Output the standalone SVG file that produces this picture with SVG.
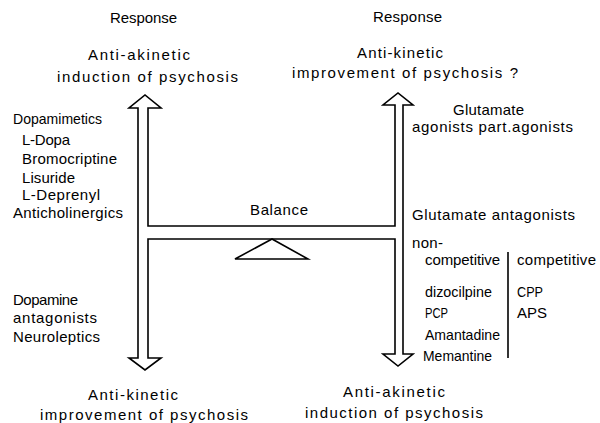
<svg xmlns="http://www.w3.org/2000/svg" width="600" height="423" viewBox="0 0 600 423">
<style>
text{font-family:"Liberation Sans","DejaVu Sans",sans-serif;font-size:15px;fill:#000;}
.ln{fill:none;stroke:#000;stroke-width:1.6;stroke-linejoin:miter;}
</style>
<rect width="600" height="423" fill="#fff"/>
<g id="connectors">
<path id="h-frame" class="ln" d="M148,108 V226 H395 V105 H383 L398,93 L413,105 H403 V354 H413 L398,366 L383,354 H395 V239 H148 V358 H161 L145,370 L129,358 H138 V108 H129 L145,95 L161,108 Z"/>
<path id="divider" class="ln" d="M508,252 V358"/>
</g>
<g id="fulcrum"><polygon class="ln" points="272,239 235,259 308,259"/></g>
<g id="top-left">
<text x="110" y="23" textLength="67" lengthAdjust="spacing">Response</text>
<text x="88" y="60" textLength="102" lengthAdjust="spacing">Anti-akinetic</text>
<text x="57" y="82" textLength="181" lengthAdjust="spacing">induction of psychosis</text>
</g>
<g id="top-right">
<text x="373" y="22" textLength="69" lengthAdjust="spacing">Response</text>
<text x="357" y="58" textLength="86" lengthAdjust="spacing">Anti-kinetic</text>
<text x="292" y="78" textLength="226" lengthAdjust="spacing">improvement of psychosis ?</text>
</g>
<g id="dopamimetics">
<text x="13" y="124" textLength="89" lengthAdjust="spacingAndGlyphs">Dopamimetics</text>
<text x="22" y="145" textLength="48" lengthAdjust="spacing">L-Dopa</text>
<text x="22" y="164" textLength="95" lengthAdjust="spacing">Bromocriptine</text>
<text x="22" y="183" textLength="53" lengthAdjust="spacing">Lisuride</text>
<text x="22" y="200" textLength="78" lengthAdjust="spacing">L-Deprenyl</text>
<text x="13" y="218" textLength="110" lengthAdjust="spacing">Anticholinergics</text>
</g>
<g id="dopamine-antagonists">
<text x="13" y="305" textLength="65" lengthAdjust="spacing">Dopamine</text>
<text x="13" y="323" textLength="84" lengthAdjust="spacing">antagonists</text>
<text x="13" y="342" textLength="87" lengthAdjust="spacing">Neuroleptics</text>
</g>
<g id="bottom-left">
<text x="88" y="400" textLength="90" lengthAdjust="spacing">Anti-kinetic</text>
<text x="40" y="420" textLength="208" lengthAdjust="spacing">improvement of psychosis</text>
</g>
<g id="bottom-right">
<text x="343" y="397" textLength="102" lengthAdjust="spacing">Anti-akinetic</text>
<text x="305" y="418" textLength="178" lengthAdjust="spacing">induction of psychosis</text>
</g>
<g id="balance"><text x="250" y="215" textLength="58" lengthAdjust="spacing">Balance</text></g>
<g id="glutamate-agonists">
<text x="453" y="115" textLength="71" lengthAdjust="spacing">Glutamate</text>
<text x="412" y="132" textLength="161" lengthAdjust="spacing">agonists part.agonists</text>
</g>
<g id="glutamate-antagonists">
<text x="412" y="220" textLength="163" lengthAdjust="spacing">Glutamate antagonists</text>
<text x="412" y="248" textLength="31" lengthAdjust="spacing">non-</text>
<text x="425" y="265" textLength="75" lengthAdjust="spacing">competitive</text>
<text x="425" y="297" textLength="67" lengthAdjust="spacingAndGlyphs">dizocilpine</text>
<text x="425" y="318" textLength="23" lengthAdjust="spacingAndGlyphs">PCP</text>
<text x="425" y="340" textLength="75" lengthAdjust="spacingAndGlyphs">Amantadine</text>
<text x="423" y="361" textLength="69" lengthAdjust="spacingAndGlyphs">Memantine</text>
<text x="517" y="265" textLength="79" lengthAdjust="spacing">competitive</text>
<text x="517" y="297" textLength="26" lengthAdjust="spacingAndGlyphs">CPP</text>
<text x="517" y="318" textLength="30" lengthAdjust="spacingAndGlyphs">APS</text>
</g>
</svg>
